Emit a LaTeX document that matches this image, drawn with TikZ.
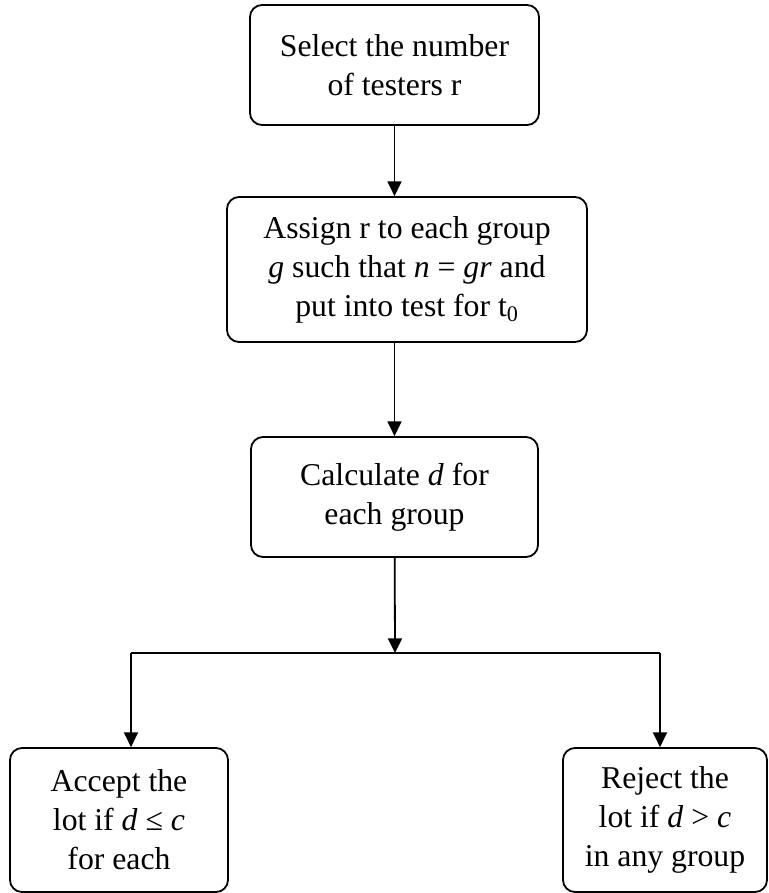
\documentclass[tikz,border=0pt]{standalone}
\usepackage{fontspec}
\setmainfont{Liberation Serif}
\usetikzlibrary{arrows.meta}

\begin{document}
\begin{tikzpicture}[x=0.75pt, y=-0.75pt, line width=1.35pt,
  box/.style={draw, rounded corners=9pt, align=center, inner sep=0pt,
    font=\fontsize{23.8}{29.3}\selectfont},
  arr/.style={-{Triangle[width=10.5pt, length=11pt]}}]
  \useasboundingbox (0,0) rectangle (768,893);
  \node[box, minimum width=216.75pt, minimum height=90pt] (b1) at (394.5,65)
    {Select the number\\of testers r};
  \node[box, minimum width=270pt, minimum height=108.75pt] (b2) at (407,269.5)
    {Assign r to each group\\\textit{g} such that \textit{n} = \textit{gr} and\\put into test for t\textsubscript{0}};
  \node[box, minimum width=215.25pt, minimum height=90pt] (b3) at (394.5,497)
    {Calculate \textit{d} for\\each group};
  \node[box, minimum width=163.5pt, minimum height=108pt] (b4) at (119,820)
    {Accept the\\lot if \textit{d} ≤ \textit{c}\\for each};
  \node[box, minimum width=153pt, minimum height=108pt] (b5) at (665,820)
    {Reject the\\lot if \textit{d} > \textit{c}\\in any group};
  \coordinate (j) at (395,653);
  \coordinate (jl) at (131,653);
  \coordinate (jr) at (660,653);
  \draw[arr] (b1) -- (b1 |- b2.north);
  \draw[arr] (b2.south -| b3) -- (b3);
  \draw[arr] (b3) -- (j);
  \draw (jl) -- (jr);
  \draw[arr] (jl) -- (jl |- b4.north);
  \draw[arr] (jr) -- (jr |- b5.north);
\end{tikzpicture}
\end{document}
